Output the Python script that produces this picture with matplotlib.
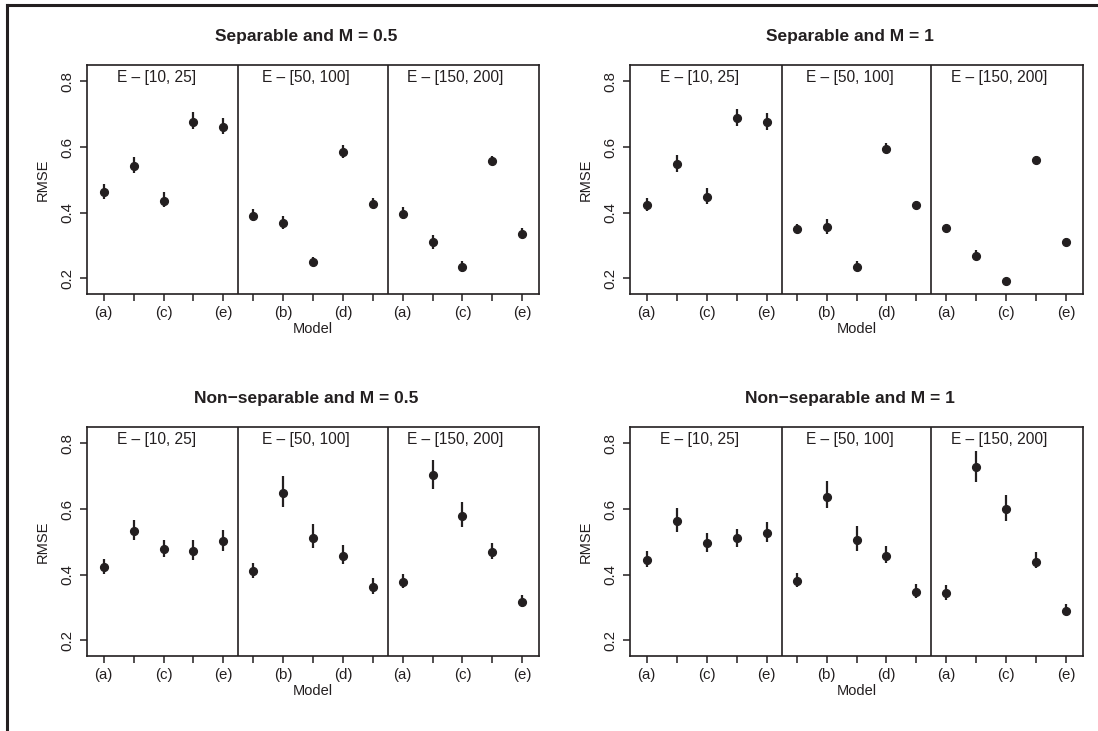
import matplotlib
matplotlib.use("Agg")
import matplotlib.pyplot as plt
from matplotlib.lines import Line2D
import numpy as np

plt.rcParams['font.family'] = ['Liberation Sans', 'DejaVu Sans']

titles = ["Separable and M = 0.5", "Separable and M = 1",
          "Non\u2212separable and M = 0.5", "Non\u2212separable and M = 1"]
groups = ["E \u2013 [10, 25]", "E \u2013 [50, 100]", "E \u2013 [150, 200]"]
models = ["(a)", "(b)", "(c)", "(d)", "(e)"]

# RMSE estimates (15 per panel: 3 E-groups x 5 models)
sep05_mid = [0.462, 0.543, 0.434, 0.676, 0.661,
             0.390, 0.368, 0.249, 0.585, 0.426,
             0.396, 0.310, 0.234, 0.558, 0.336]
sep05_lo = [0.442, 0.522, 0.417, 0.656, 0.640,
            0.373, 0.350, 0.241, 0.568, 0.414,
            0.380, 0.290, 0.220, 0.546, 0.325]
sep05_hi = [0.488, 0.571, 0.462, 0.706, 0.688,
            0.411, 0.390, 0.264, 0.605, 0.444,
            0.416, 0.332, 0.252, 0.573, 0.353]

sep1_mid = [0.424, 0.547, 0.447, 0.688, 0.676,
            0.349, 0.355, 0.234, 0.595, 0.422,
            0.354, 0.267, 0.192, 0.560, 0.311]
sep1_lo = [0.406, 0.523, 0.427, 0.664, 0.653,
           0.340, 0.334, 0.223, 0.581, 0.412,
           0.344, 0.256, 0.183, 0.551, 0.301]
sep1_hi = [0.444, 0.576, 0.475, 0.717, 0.703,
           0.365, 0.381, 0.254, 0.612, 0.435,
           0.363, 0.286, 0.202, 0.573, 0.322]

non05_mid = [0.424, 0.534, 0.477, 0.473, 0.503,
             0.410, 0.650, 0.512, 0.456, 0.363,
             0.377, 0.703, 0.579, 0.470, 0.316]
non05_lo = [0.403, 0.507, 0.454, 0.446, 0.473,
            0.391, 0.607, 0.480, 0.432, 0.342,
            0.358, 0.660, 0.544, 0.449, 0.300]
non05_hi = [0.449, 0.566, 0.507, 0.505, 0.536,
            0.436, 0.701, 0.553, 0.490, 0.390,
            0.403, 0.749, 0.620, 0.497, 0.337]

non1_mid = [0.445, 0.564, 0.496, 0.511, 0.527,
            0.381, 0.638, 0.507, 0.458, 0.347,
            0.343, 0.727, 0.600, 0.439, 0.290]
non1_lo = [0.422, 0.530, 0.469, 0.484, 0.500,
           0.363, 0.602, 0.471, 0.436, 0.329,
           0.324, 0.682, 0.564, 0.419, 0.276]
non1_hi = [0.472, 0.602, 0.527, 0.540, 0.561,
           0.405, 0.686, 0.548, 0.486, 0.371,
           0.368, 0.777, 0.643, 0.468, 0.310]

panels = [(sep05_mid, sep05_lo, sep05_hi), (sep1_mid, sep1_lo, sep1_hi),
          (non05_mid, non05_lo, non05_hi), (non1_mid, non1_lo, non1_hi)]

W, H = 1098, 731
fig = plt.figure(figsize=(W / 100, H / 100), dpi=100)
ink = "#231f20"

boxes = [(87, 65, 539, 294), (630, 65, 1083, 294),
         (87, 427, 539, 656), (630, 427, 1083, 656)]

xpos = np.arange(1, 16)
tick_labels = [models[i % 5] if i % 2 == 0 else "" for i in range(15)]

for k, (box, (mid, lo, hi)) in enumerate(zip(boxes, panels)):
    x0, y0, x1, y1 = box
    ax = fig.add_axes([x0 / W, 1 - y1 / H, (x1 - x0) / W, (y1 - y0) / H])
    mid = np.array(mid); lo = np.array(lo); hi = np.array(hi)
    ax.vlines(xpos, lo, hi, color=ink, lw=1.6)
    ax.plot(xpos, mid, 'o', color=ink, ms=5.6)
    ax.set_xlim(0.44, 15.56)
    ax.set_ylim(0.152, 0.850)
    for b in (5.5, 10.5):
        ax.axvline(b, color=ink, lw=1.2)
    for g, name in enumerate(groups):
        ax.text(3 + 5 * g - 0.23, 0.848 - 0.036, name, ha='center', va='center',
                fontsize=11.2, color=ink)
    ax.set_xticks(xpos)
    ax.set_xticklabels(tick_labels, fontsize=10.8, color=ink)
    ax.set_yticks([0.2, 0.4, 0.6, 0.8])
    ax.set_yticklabels(["0.2", "0.4", "0.6", "0.8"], rotation=90,
                       va='center', fontsize=10.8, color=ink)
    ax.tick_params(axis='both', direction='out', length=5, width=1.1,
                   color=ink, pad=4)
    for s in ax.spines.values():
        s.set_color(ink)
        s.set_linewidth(1.2)
    ax.set_xlabel("Model", fontsize=10.5, color=ink, labelpad=1)
    ax.set_ylabel("RMSE", fontsize=10.5, color=ink, labelpad=8)
    tx = ((x0 + x1) / 2 - 7) / W
    ty = 1 - (y0 - 29) / H
    fig.text(tx, ty, titles[k], ha='center', va='center', fontsize=12.5,
             fontweight='bold', color=ink)

# outer frame lines (left and top)
fig.add_artist(Line2D([7 / W, 7 / W], [0, 1 - 5 / H], color=ink, lw=2.2,
                      transform=fig.transFigure))
fig.add_artist(Line2D([7 / W, 1], [1 - 5 / H, 1 - 5 / H], color=ink, lw=2.2,
                      transform=fig.transFigure))

fig.savefig("out.png", dpi=100)
